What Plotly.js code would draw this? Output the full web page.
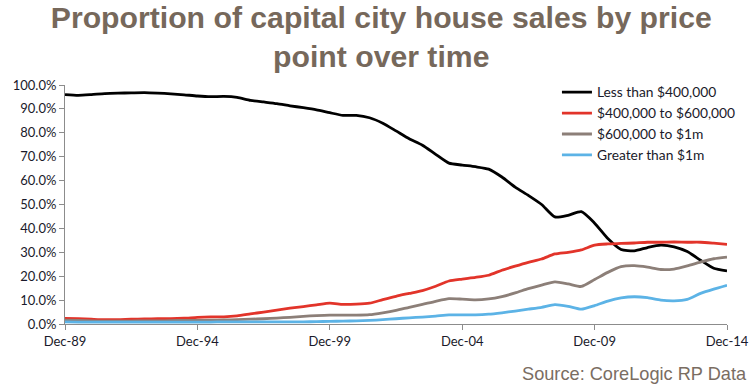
<!DOCTYPE html>
<html>
<head>
<meta charset="utf-8">
<script src="https://cdn.plot.ly/plotly-3.0.1.min.js"></script>
<style>
html,body{margin:0;padding:0;background:#fff;}
#chart{width:752px;height:386px;}
</style>
</head>
<body>
<div id="chart"></div>
<script>
// Half-yearly observation dates
var dates = [
 '1989-12-01','1990-06-01','1990-12-01','1991-06-01','1991-12-01','1992-06-01','1992-12-01','1993-06-01','1993-12-01','1994-06-01',
 '1994-12-01','1995-06-01','1995-12-01','1996-06-01','1996-12-01','1997-06-01','1997-12-01','1998-06-01','1998-12-01','1999-06-01',
 '1999-12-01','2000-06-01','2000-12-01','2001-06-01','2001-12-01','2002-06-01','2002-12-01','2003-06-01','2003-12-01','2004-06-01',
 '2004-12-01','2005-06-01','2005-12-01','2006-06-01','2006-12-01','2007-06-01','2007-12-01','2008-06-01','2008-12-01','2009-06-01',
 '2009-12-01','2010-06-01','2010-12-01','2011-06-01','2011-12-01','2012-06-01','2012-12-01','2013-06-01','2013-12-01','2014-06-01',
 '2014-12-01'
];

// Share of sales (%) by price point
var lessThan400k = [
 96.0,95.7,96.0,96.4,96.6,96.7,96.8,96.6,96.3,95.9,
 95.4,95.1,95.2,94.8,93.6,92.9,92.2,91.3,90.5,89.6,
 88.4,87.3,87.3,86.3,84.0,80.8,77.5,74.8,71.0,67.3,
 66.5,65.8,64.8,61.5,57.3,53.8,50.0,44.8,45.5,47.0,
 42.2,35.8,31.2,30.6,32.0,33.0,32.3,30.3,26.7,23.3,
 22.2
];
var from400kTo600k = [
 2.3,2.2,2.0,1.8,1.8,2.0,2.1,2.2,2.2,2.4,
 2.8,3.0,3.0,3.4,4.2,5.0,5.8,6.6,7.3,8.0,
 8.7,8.2,8.3,8.7,10.2,11.6,12.8,14.0,15.8,18.0,
 18.8,19.5,20.4,22.5,24.2,25.8,27.2,29.3,30.0,31.0,
 33.0,33.5,33.7,33.9,34.2,34.2,34.3,34.2,34.2,33.8,
 33.3
];
var from600kTo1m = [
 1.6,1.5,1.3,1.2,1.2,1.2,1.3,1.3,1.4,1.5,
 1.5,1.6,1.7,1.8,2.0,2.2,2.5,2.8,3.2,3.5,
 3.7,3.7,3.7,3.9,4.7,5.7,7.0,8.2,9.5,10.6,
 10.4,10.1,10.5,11.5,13.0,14.8,16.3,17.6,16.8,15.7,
 18.6,21.6,24.0,24.4,23.8,22.8,23.0,24.3,25.9,27.3,
 28.0
];
var greaterThan1m = [
 0.9,0.8,0.8,0.8,0.8,0.8,0.8,0.8,0.8,0.8,
 0.8,0.8,0.9,0.9,0.9,0.9,0.9,0.9,0.9,1.0,
 1.1,1.2,1.3,1.5,1.8,2.2,2.6,2.9,3.3,3.8,
 3.8,3.8,4.1,4.7,5.4,6.2,7.0,8.1,7.4,6.2,
 7.7,9.6,10.9,11.4,11.0,10.0,9.7,10.3,12.8,14.6,
 16.2
];

var seriesNames = ['Less than $400,000','$400,000 to $600,000','$600,000 to $1m','Greater than $1m'];
var seriesColors = ['#000000','#e2342a','#8c7f78','#5cb3e6'];
var seriesValues = [lessThan400k, from400kTo600k, from600kTo1m, greaterThan1m];

var tickDates = ['1989-12-01','1994-12-01','1999-12-01','2004-12-01','2009-12-01','2014-12-01'];
var tickLabels = ['Dec-89','Dec-94','Dec-99','Dec-04','Dec-09','Dec-14'];

var traces = seriesValues.map(function(vals, i){
  return {
    x: dates,
    y: vals.map(function(v){return v/100;}),
    name: seriesNames[i],
    type: 'scatter',
    mode: 'lines',
    line: {color: seriesColors[i], width: 2.8, shape: 'spline', smoothing: 0.6}
  };
});

var tickFont = {family: 'Lato, "DejaVu Sans", sans-serif', size: 13, color: '#1a1a2a'};

var layout = {
  width: 752, height: 386,
  margin: {l: 65, r: 24, t: 85, b: 62},
  paper_bgcolor: '#ffffff', plot_bgcolor: '#ffffff',
  title: {
    text: 'Proportion of capital city house sales by price<br>point over time',
    font: {family: '"Liberation Sans Narrow", "Arial Narrow", "Liberation Sans", sans-serif', size: 30.2, color: '#76685b', weight: 'bold'},
    x: 0.507, xanchor: 'center', xref: 'container',
    y: 0.928, yanchor: 'top', yref: 'container'
  },
  showlegend: true,
  legend: {
    x: 0.742, xanchor: 'left', y: 1.035, yanchor: 'top',
    font: {family: 'Lato, "DejaVu Sans", sans-serif', size: 13.8, color: '#1a1a2a'},
    bgcolor: 'rgba(0,0,0,0)', tracegroupgap: 0
  },
  xaxis: {
    type: 'date',
    range: ['1989-12-01','2014-12-01'],
    tickmode: 'array', tickvals: tickDates, ticktext: tickLabels,
    ticks: 'outside', ticklen: 5, tickcolor: '#8c8c8c', tickwidth: 1,
    showline: true, linecolor: '#8c8c8c', linewidth: 1,
    showgrid: false, zeroline: false,
    tickfont: tickFont
  },
  yaxis: {
    range: [0, 1],
    dtick: 0.1, tick0: 0, tickformat: '.1%',
    ticks: 'outside', ticklen: 5, tickcolor: '#8c8c8c', tickwidth: 1,
    showline: true, linecolor: '#8c8c8c', linewidth: 1,
    showgrid: false, zeroline: false,
    tickfont: tickFont
  },
  annotations: [{
    text: 'Source: CoreLogic RP Data',
    xref: 'paper', yref: 'paper',
    x: 1.033, xanchor: 'right',
    y: -0.209, yanchor: 'middle',
    showarrow: false,
    font: {family: '"Liberation Sans", Arial, sans-serif', size: 18.2, color: '#7a6d62'}
  }]
};

Plotly.newPlot('chart', traces, layout, {displayModeBar: false, staticPlot: true});
</script>
</body>
</html>
